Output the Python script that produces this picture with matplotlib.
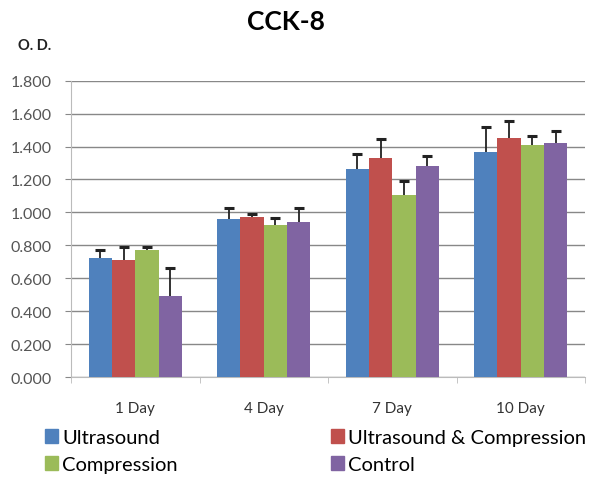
import matplotlib
matplotlib.use("Agg")
import matplotlib.pyplot as plt
import numpy as np
from matplotlib.patches import Rectangle

categories = ["1 Day", "4 Day", "7 Day", "10 Day"]
series_names = ["Ultrasound", "Ultrasound & Compression", "Compression", "Control"]
ultrasound = [0.723, 0.957, 1.262, 1.367]
ultrasound_err = [0.048, 0.069, 0.095, 0.154]
us_comp = [0.709, 0.970, 1.331, 1.454]
us_comp_err = [0.079, 0.020, 0.113, 0.101]
compression = [0.770, 0.925, 1.107, 1.410]
compression_err = [0.018, 0.038, 0.081, 0.057]
control = [0.491, 0.941, 1.281, 1.420]
control_err = [0.171, 0.085, 0.064, 0.075]
colors = ["#4F81BD", "#C0504D", "#9BBB59", "#8064A2"]
yticks = [0.0, 0.2, 0.4, 0.6, 0.8, 1.0, 1.2, 1.4, 1.6, 1.8]

plt.rcParams['font.family'] = ['Lato', 'DejaVu Sans']

fig = plt.figure(figsize=(5.9, 4.81), dpi=100)
ax = fig.add_axes([71/590, 1-378/481, (585-71)/590, (378-81.7)/481])

values = [ultrasound, us_comp, compression, control]
errs = [ultrasound_err, us_comp_err, compression_err, control_err]
x = np.arange(len(categories))
w = 0.181
for i, (v, e, c) in enumerate(zip(values, errs, colors)):
    pos = x - 1.5*w + i*w
    v = np.array(v); e = np.array(e)
    ax.bar(pos, v, width=w, color=c, zorder=3, label=series_names[i])
    ax.errorbar(pos, v, yerr=[np.zeros(len(v)), e], fmt='none', ecolor='#222222',
                elinewidth=1.3, capsize=0, zorder=4)
    ax.plot(pos, v + e, linestyle='none', marker='_', markersize=7, markeredgewidth=2.2,
            color='#222222', zorder=4)

ax.set_xlim(-0.5, 3.5)
ax.set_ylim(0, 1.8)
ax.set_yticks(yticks)
ax.set_yticklabels([f"{t:.3f}" for t in yticks], color='#555555', fontsize=11.5)
ax.yaxis.grid(True, color='#888888', linewidth=1, zorder=0)
ax.set_axisbelow(True)
ax.tick_params(axis='y', length=4.3, color='#888888', pad=9.4)
ax.set_xticks(x)
ax.set_xticklabels(categories, fontsize=11, color='#333333')
ax.tick_params(axis='x', length=0, pad=17.5)
ax.set_xticks([-0.5, 0.5, 1.5, 2.5, 3.5], minor=True)
ax.tick_params(axis='x', which='minor', length=4, color='#bbbbbb')
for s in ['top', 'right']:
    ax.spines[s].set_visible(False)
ax.spines['left'].set_color('#bbbbbb')
ax.spines['bottom'].set_color('#bbbbbb')

fig.text(286/590, 1-22/481, "CCK-8", ha='center', va='center', fontsize=19, fontweight='bold')
fig.text(35/590, 1-46/481, "O. D.", ha='center', va='center', fontsize=10.5, fontweight='bold', color='#222222')

handles = [Rectangle((0, 0), 1, 1, color=c) for c in colors]
order = [0, 2, 1, 3]
fig.legend([handles[i] for i in order], [series_names[i] for i in order], ncol=2,
           loc='upper left', bbox_to_anchor=(45/590, 1-430/481), frameon=False,
           fontsize=14.5, handlelength=0.65, handleheight=0.65, handletextpad=0.2,
           columnspacing=7.6, labelspacing=0.5, borderpad=0, borderaxespad=0)

fig.savefig("out.png", dpi=100)
